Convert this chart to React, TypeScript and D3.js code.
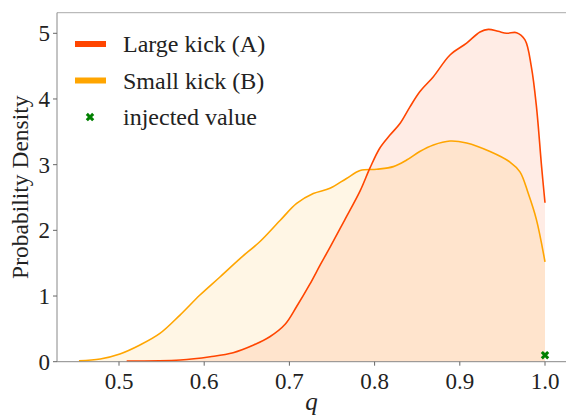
import React from "react";
import * as d3 from "d3";

const qA = [0.509, 0.572, 0.607, 0.634, 0.658, 0.677, 0.695, 0.7085, 0.724, 0.736, 0.7476, 0.765, 0.783, 0.7946, 0.806, 0.818, 0.830, 0.8415, 0.853, 0.869, 0.8885, 0.908, 0.9237, 0.9335, 0.945, 0.955, 0.9667, 0.9765, 0.984, 0.990, 0.996, 1.0];
const dA = [0.01, 0.026, 0.076, 0.137, 0.254, 0.38, 0.57, 0.84, 1.18, 1.47, 1.74, 2.16, 2.60, 2.95, 3.25, 3.45, 3.63, 3.88, 4.11, 4.34, 4.67, 4.85, 5.02, 5.06, 5.03, 5.0, 5.01, 4.90, 4.49, 3.88, 2.97, 2.42];

const qB = [0.453, 0.478, 0.501, 0.5246, 0.548, 0.5716, 0.595, 0.6185, 0.642, 0.6655, 0.689, 0.7085, 0.728, 0.7476, 0.767, 0.783, 0.8026, 0.822, 0.8376, 0.853, 0.869, 0.8885, 0.908, 0.9355, 0.9589, 0.9706, 0.9804, 0.990, 1.0];
const dB = [0.015, 0.041, 0.117, 0.254, 0.43, 0.71, 1.015, 1.29, 1.57, 1.83, 2.15, 2.41, 2.56, 2.64, 2.79, 2.91, 2.93, 2.97, 3.07, 3.20, 3.30, 3.36, 3.33, 3.20, 3.04, 2.89, 2.56, 2.16, 1.52];

const injected = [{ q: 1.0, d: 0.1 }];

const xTicks = [0.5, 0.6, 0.7, 0.8, 0.9, 1.0];
const yTicks = [0, 1, 2, 3, 4, 5];

const seriesNames = ["Large kick (A)", "Small kick (B)"];
const seriesColors = ["#ff4500", "#ffa500"];

export default function App() {
  const W = 566, H = 417;
  const left = 57, right = 566, top = 12.7, bottom = 361.7;
  const x = d3.scaleLinear().domain([0.5, 1.0]).range([119, 545]);
  const y = d3.scaleLinear().domain([0, 5]).range([361.7, 33.3]);
  const font = "Liberation Serif, DejaVu Serif, serif";

  const A = qA.map((q, i) => ({ q, d: dA[i] }));
  const B = qB.map((q, i) => ({ q, d: dB[i] }));
  const curve = d3.curveCatmullRom.alpha(0.5);
  const line = d3.line<{ q: number; d: number }>().x(p => x(p.q)).y(p => y(p.d)).curve(curve);
  const area = d3.area<{ q: number; d: number }>().x(p => x(p.q)).y0(y(0)).y1(p => y(p.d)).curve(curve);

  const xMarker = "M-5,-2.5 L-2.5,-5 L0,-2.5 L2.5,-5 L5,-2.5 L2.5,0 L5,2.5 L2.5,5 L0,2.5 L-2.5,5 L-5,2.5 L-2.5,0 Z";
  const textStyle = { fontFamily: font, fill: "#222" } as React.CSSProperties;

  return (
    <svg width={W} height={H} style={{ position: "absolute", left: 0, top: 0, background: "#fff" }}>
      <path d={area(B) || ""} fill="#ffa500" fillOpacity={0.1} />
      <path d={area(A) || ""} fill="#ff4500" fillOpacity={0.1} />
      <path d={line(B) || ""} fill="none" stroke={seriesColors[1]} strokeWidth={1.6} />
      <path d={line(A) || ""} fill="none" stroke={seriesColors[0]} strokeWidth={1.6} />
      {injected.map((p, i) => (
        <path key={i} d={xMarker} transform={`translate(${x(p.q)},${y(p.d)}) scale(0.85)`} fill="green" />
      ))}
      <line x1={left} x2={right} y1={top} y2={top} stroke="#aaa" strokeWidth={1} />
      <line x1={left} x2={left} y1={top} y2={bottom} stroke="#888" strokeWidth={1} />
      <line x1={left} x2={right} y1={bottom} y2={bottom} stroke="#888" strokeWidth={1} />
      {xTicks.map(t => (
        <g key={t}>
          <line x1={x(t)} x2={x(t)} y1={bottom} y2={bottom + 4} stroke="#666" />
          <text x={x(t)} y={bottom + 27} textAnchor="middle" fontSize={23} style={textStyle}>{t.toFixed(1)}</text>
        </g>
      ))}
      {yTicks.map(t => (
        <g key={t}>
          <line x1={left - 4} x2={left} y1={y(t)} y2={y(t)} stroke="#666" />
          <text x={left - 7} y={y(t) + 8} textAnchor="end" fontSize={23} style={textStyle}>{t}</text>
        </g>
      ))}
      <text transform={`translate(28,${(top + bottom) / 2}) rotate(-90)`} textAnchor="middle" fontSize={23.5} style={textStyle}>Probability Density</text>
      <text x={(left + right) / 2} y={410} textAnchor="middle" fontSize={25} fontStyle="italic" style={textStyle}>q</text>
      {seriesNames.map((n, i) => (
        <g key={n}>
          <line x1={75} x2={106} y1={44 + i * 36.5} y2={44 + i * 36.5} stroke={seriesColors[i]} strokeWidth={6} />
          <text x={123} y={44 + i * 36.5 + 8} fontSize={24} style={textStyle}>{n}</text>
        </g>
      ))}
      <path d={xMarker} transform="translate(90,117) scale(0.85)" fill="green" />
      <text x={123} y={125} fontSize={24} style={textStyle}>injected value</text>
    </svg>
  );
}
